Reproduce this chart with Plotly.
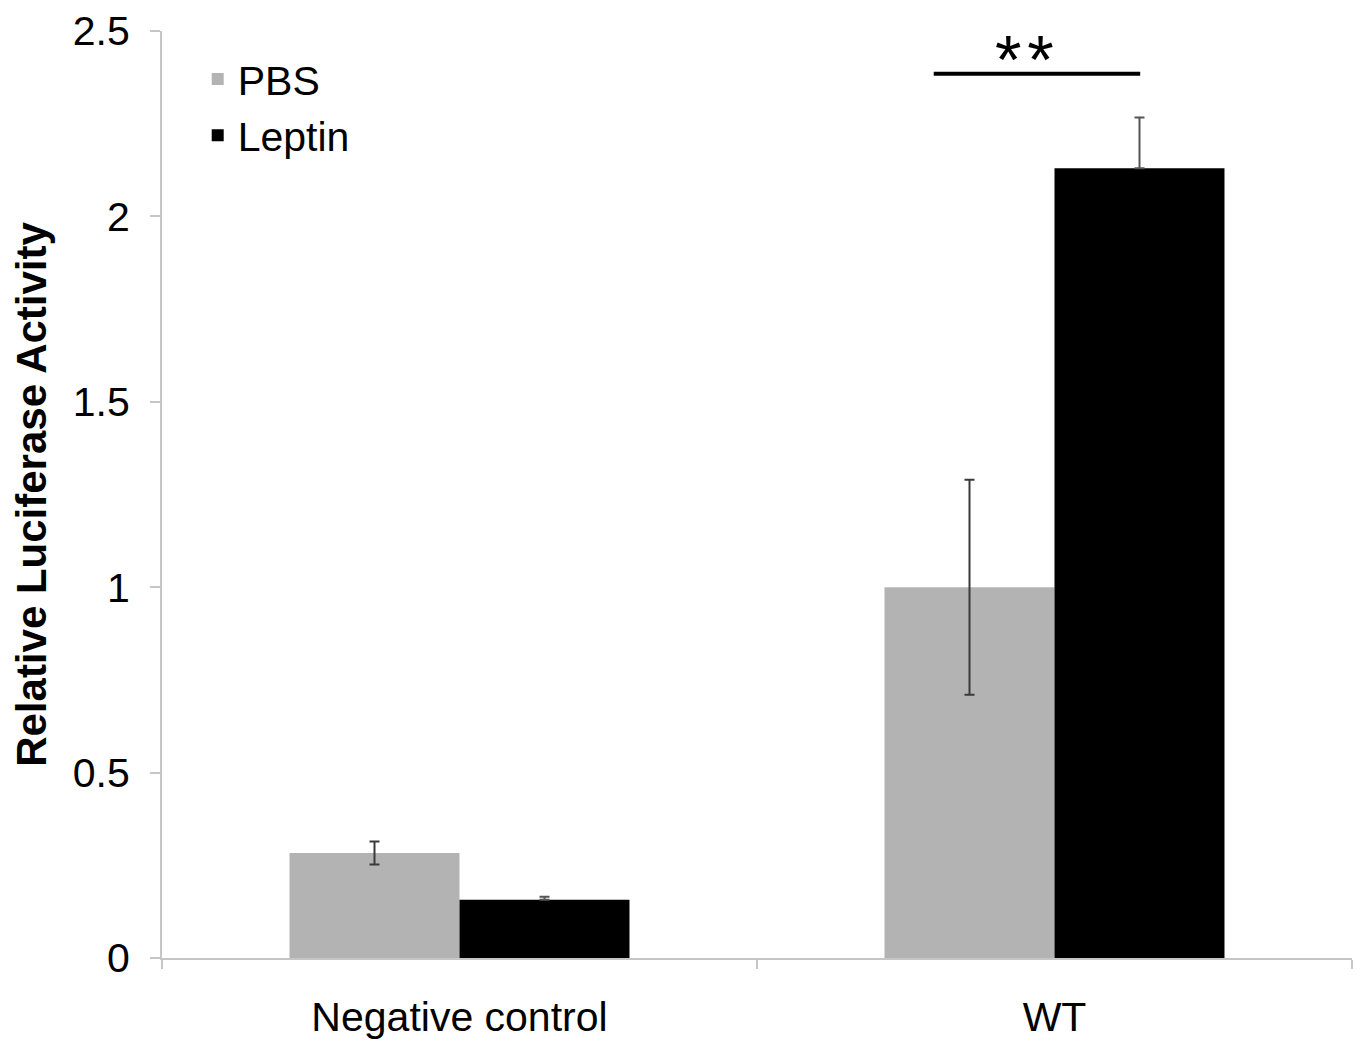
import plotly.graph_objects as go

categories = ["Negative control", "WT"]
pbs_values = [0.283, 1.0]
pbs_errors = [0.031, 0.29]
leptin_values = [0.157, 2.13]
leptin_errors = [0.008, 0.137]
series_names = ["PBS", "Leptin"]
y_ticks = [0, 0.5, 1, 1.5, 2, 2.5]
sig_label = "*\u200a*"
sig_level = 2.385

FONT = "Liberation Sans, Arial, Helvetica, sans-serif"
AXIS_COLOR = "#c6c6c6"
PBS_COLOR = "#b3b3b3"
LEPTIN_COLOR = "#000000"

fig = go.Figure()
fig.add_trace(go.Bar(
    x=categories, y=pbs_values, name=series_names[0],
    marker=dict(color=PBS_COLOR, line=dict(width=0)),
    error_y=dict(type="data", array=pbs_errors, color="#3a3a3a", thickness=2, width=5),
    showlegend=False,
))
fig.add_trace(go.Bar(
    x=categories, y=leptin_values, name=series_names[1],
    marker=dict(color=LEPTIN_COLOR, line=dict(width=0)),
    error_y=dict(type="data", symmetric=False, array=leptin_errors,
                 arrayminus=[0] * len(leptin_errors),
                 color="#555555", thickness=2, width=5),
    showlegend=False,
))
# legend entries (square symbols)
for nm, col in zip(series_names, [PBS_COLOR, LEPTIN_COLOR]):
    fig.add_trace(go.Scatter(
        x=[None], y=[None], mode="markers", name=nm,
        marker=dict(symbol="square", size=18, color=col),
    ))

# significance bracket over WT group
fig.add_shape(type="line", xref="x", yref="y",
              x0=0.797, x1=1.144, y0=sig_level, y1=sig_level,
              line=dict(color="black", width=4))
fig.add_annotation(x=0.949, y=sig_level, xref="x", yref="y", text=sig_label,
                   showarrow=False, yanchor="bottom", yshift=-25,
                   font=dict(family=FONT, size=68, color="black"))

fig.update_layout(
    width=1360, height=1042,
    margin=dict(l=162, r=8, t=26, b=84),
    paper_bgcolor="white", plot_bgcolor="white",
    barmode="group", bargap=0.4286, bargroupgap=0,
    font=dict(family=FONT, size=41, color="black"),
    legend=dict(x=0.03, y=0.984, xanchor="left", yanchor="top",
                bgcolor="rgba(0,0,0,0)", font=dict(size=41),
                itemsizing="constant", tracegroupgap=0),
    xaxis=dict(
        type="category", showgrid=False, showline=True, linecolor=AXIS_COLOR, linewidth=2,
        ticks="outside", tickson="boundaries", ticklen=9, tickwidth=2, tickcolor=AXIS_COLOR,
        tickfont=dict(size=41), ticklabelstandoff=22, range=[-0.5, 1.5], automargin=False,
    ),
    yaxis=dict(
        range=[0, 2.5], tickvals=y_ticks, showgrid=False, zeroline=False,
        showline=True, linecolor=AXIS_COLOR, linewidth=2,
        ticks="outside", ticklen=10, tickwidth=2, tickcolor=AXIS_COLOR,
        tickfont=dict(size=41), ticklabelstandoff=12,
        title=dict(text="<b>Relative Luciferase Activity</b>", font=dict(size=42), standoff=13),
    ),
)

fig.write_html("out.html")
